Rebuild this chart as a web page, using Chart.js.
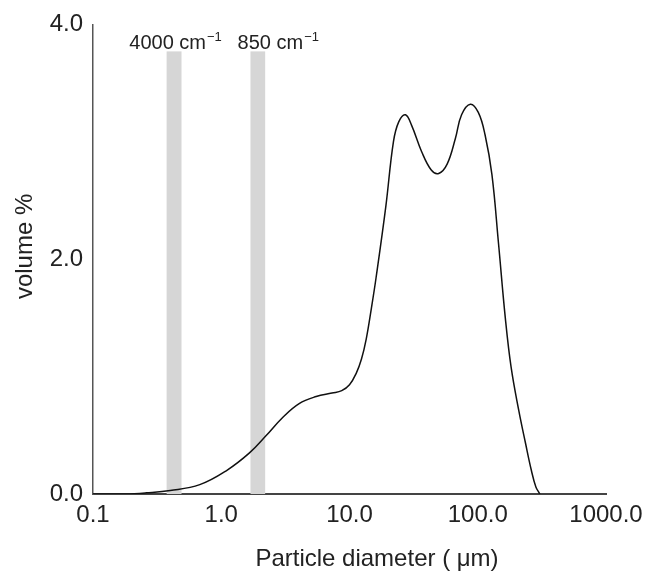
<!DOCTYPE html>
<html>
<head>
<meta charset="utf-8">
<script src="https://cdn.jsdelivr.net/npm/chart.js@4/dist/chart.umd.min.js"></script>
<style>
  body { margin: 0; background: #fff; }
</style>
</head>
<body>
<canvas id="chart" width="652" height="573"></canvas>
<script>
// particle size distribution (diameter in um, volume %)
const diameters = [0.1, 0.18, 0.26, 0.4, 0.68, 1.1, 1.66, 2.25, 3.0, 4.05, 5.5, 7.3, 8.7,
  10.0, 11.3, 12.4, 13.5, 14.8, 16.1, 19.2, 22.0, 24.2, 27.3, 30.5, 36.4, 43.4, 49.6, 57.7,
  67, 74.8, 87.5, 101, 114, 129, 145, 164, 182, 209, 236, 262, 284, 305];
const volumes = [0, 0, 0.01, 0.03, 0.08, 0.2, 0.35, 0.5, 0.65, 0.77, 0.83, 0.86, 0.88,
  0.93, 1.03, 1.15, 1.32, 1.58, 1.84, 2.45, 3.0, 3.17, 3.23, 3.14, 2.92, 2.76, 2.73, 2.81,
  3.03, 3.23, 3.32, 3.25, 3.06, 2.72, 2.14, 1.5, 1.08, 0.71, 0.43, 0.2, 0.06, 0];

// shaded wavenumber bands
const bandLabels = ["4000 cm", "850 cm"];
const bandRanges = [[0.375, 0.49], [1.69, 2.2]];
const bandTop = 3.77;

const xTicks = [0.1, 1, 10, 100, 1000];
const xTickLabels = ["0.1", "1.0", "10.0", "100.0", "1000.0"];
const yTicks = [0, 2, 4];
const yTickLabels = ["0.0", "2.0", "4.0"];

const FONT = '"Liberation Sans", Arial, sans-serif';
const TEXT = "#222";

const bandsPlugin = {
  id: "bands",
  beforeDatasetsDraw(chart, args, opts) {
    const { ctx, scales: { x, y } } = chart;
    ctx.save();
    bandRanges.forEach((r, i) => {
      const x0 = x.getPixelForValue(r[0]);
      const x1 = x.getPixelForValue(r[1]);
      const yt = y.getPixelForValue(bandTop);
      const yb = y.getPixelForValue(0);
      ctx.fillStyle = "#d6d6d6";
      ctx.fillRect(x0, yt, x1 - x0, yb - yt);

      // label with superscript -1
      ctx.fillStyle = TEXT;
      ctx.textBaseline = "alphabetic";
      ctx.textAlign = "left";
      ctx.font = "20px " + FONT;
      const w1 = ctx.measureText(bandLabels[i]).width;
      ctx.font = "13px " + FONT;
      const w2 = ctx.measureText("\u22121").width;
      const cx = (x0 + x1) / 2 + opts.dx[i];
      const left = cx - (w1 + w2) / 2;
      ctx.font = "20px " + FONT;
      ctx.fillText(bandLabels[i], left, yt - 2);
      ctx.font = "13px " + FONT;
      ctx.fillText("\u22121", left + w1 + 1, yt - 10);
    });
    ctx.restore();
  },
  afterDraw(chart) {
    const { ctx, chartArea } = chart;
    ctx.save();
    ctx.fillStyle = TEXT;
    ctx.font = "24px " + FONT;
    ctx.textAlign = "center";
    ctx.textBaseline = "alphabetic";
    ctx.fillText("Particle diameter ( \u03bcm)", chartArea.left + 284, 566);
    ctx.translate(32, chartArea.top + 222);
    ctx.rotate(-Math.PI / 2);
    ctx.fillText("volume %", 0, 0);
    ctx.restore();
  }
};

new Chart(document.getElementById("chart"), {
  type: "line",
  data: {
    datasets: [{
      data: diameters.map((d, i) => ({ x: d, y: volumes[i] })),
      borderColor: "#111",
      borderWidth: 1.5,
      pointRadius: 0,
      fill: false,
      tension: 0.4
    }]
  },
  options: {
    responsive: false,
    animation: false,
    layout: { padding: { left: 0, right: 46, top: 22, bottom: 0 } },
    plugins: {
      legend: { display: false },
      tooltip: { enabled: false },
      bands: { dx: [1, 20] }
    },
    scales: {
      x: {
        type: "logarithmic",
        min: 0.1,
        max: 1000,
        grid: { display: false, drawTicks: false },
        border: { display: true, color: "#444", width: 2 },
        afterFit(s) { s.height = 79; },
        afterBuildTicks(s) { s.ticks = xTicks.map(v => ({ value: v })); },
        ticks: {
          autoSkip: false,
          maxRotation: 0,
          padding: 7,
          color: TEXT,
          font: { family: FONT, size: 24 },
          callback: (v, i) => xTickLabels[i]
        }
      },
      y: {
        min: 0,
        max: 4,
        grid: { display: false, drawTicks: false },
        border: { display: true, color: "#555", width: 1.5 },
        afterFit(s) { s.width = 93; },
        afterBuildTicks(s) { s.ticks = yTicks.map(v => ({ value: v })); },
        ticks: {
          padding: 10,
          color: TEXT,
          font: { family: FONT, size: 24 },
          callback: (v, i) => yTickLabels[i]
        }
      }
    }
  },
  plugins: [bandsPlugin]
});
</script>
</body>
</html>
